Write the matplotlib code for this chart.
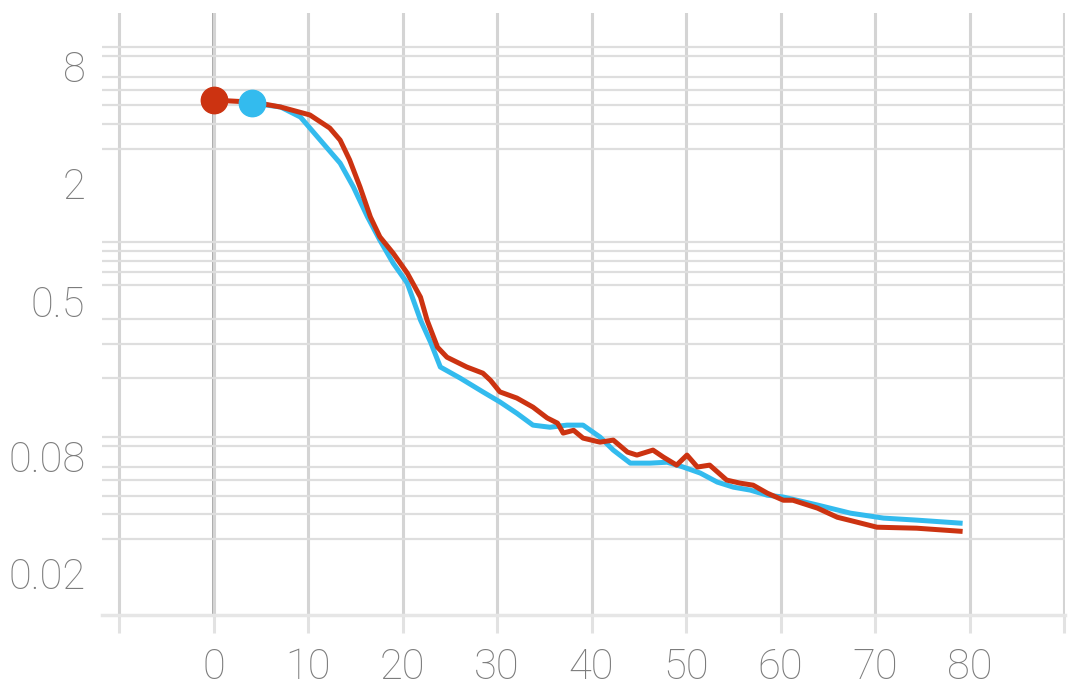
import numpy as np
import matplotlib
matplotlib.use("Agg")
import matplotlib.pyplot as plt
from matplotlib.ticker import LogLocator, FixedLocator, NullFormatter

# red run
red_steps = [0, 4.1, 5.7, 7.1, 10.2, 12.3, 13.4, 14.4, 15.5, 16.6, 17.6, 19.0, 20.5, 21.9,
             22.6, 23.7, 24.7, 26.8, 28.5, 29.3, 30.3, 32.1, 33.8, 35.3, 36.4, 37.0,
             38.1, 39.1, 40.9, 42.3, 43.8, 44.8, 46.5, 47.6, 49.0, 50.1, 51.2, 52.5,
             54.3, 55.7, 57.1, 58.6, 60.3, 61.3, 63.9, 66.0, 68.1, 70.2, 74.4, 79.0]
red_vals = [5.33, 5.20, 5.05, 4.91, 4.47, 3.83, 3.32, 2.63, 1.91, 1.34, 1.06, 0.875, 0.691, 0.520,
            0.396, 0.288, 0.256, 0.228, 0.212, 0.195, 0.170, 0.158, 0.142, 0.125, 0.1175, 0.1045,
            0.108, 0.0985, 0.0939, 0.0962, 0.0835, 0.0806, 0.0855, 0.0787, 0.0716, 0.0806, 0.0700, 0.0716,
            0.0600, 0.0579, 0.0565, 0.0514, 0.0473, 0.0473, 0.0431, 0.0387, 0.0365, 0.0344, 0.0340, 0.0328]

# blue run
blue_steps = [4.1, 7.1, 9.2, 11.3, 13.4, 14.8, 16.3, 17.6, 19.0, 20.5, 21.9, 23.0, 24.0,
              26.1, 28.5, 30.3, 32.1, 33.8, 35.6, 37.4, 39.1, 40.9, 42.3, 44.1, 46.2,
              48.0, 49.7, 51.5, 53.3, 55.0, 56.8, 58.6, 60.3, 63.9, 67.4, 70.9, 74.4, 79.0]
blue_vals = [5.14, 4.91, 4.36, 3.32, 2.53, 1.91, 1.34, 1.02, 0.778, 0.614, 0.397, 0.303, 0.228,
             0.200, 0.170, 0.151, 0.132, 0.1148, 0.112, 0.1148, 0.1148, 0.0997, 0.0855, 0.0733, 0.0733,
             0.0741, 0.0700, 0.0652, 0.0586, 0.0552, 0.0533, 0.0502, 0.0491, 0.0447, 0.0406, 0.0383, 0.0374, 0.0361]

x_ticks = [-10, 0, 10, 20, 30, 40, 50, 60, 70, 80, 90]
x_labels = ["", "0", "10", "20", "30", "40", "50", "60", "70", "80", ""]
y_ticks = [8, 2, 0.5, 0.08, 0.02]
y_labels = ["8", "2", "0.5", "0.08", "0.02"]

RED = "#cc3311"
BLUE = "#33bbee"
GRID = "#dedede"
TXT = "#7c7c7c"

plt.rcParams["font.family"] = ["Roboto", "DejaVu Sans"]

fig = plt.figure(figsize=(10.76, 6.95), dpi=100)
ax = fig.add_axes([0.0948, 0.1151, 0.8950, 0.8662])

ax.set_yscale("log")
ax.set_xlim(-11.8, 90.1)
ax.set_ylim(0.0122, 14.9)

# grid
ax.yaxis.set_minor_locator(LogLocator(base=10, subs=np.arange(1, 10)))
ax.yaxis.set_minor_formatter(NullFormatter())
ax.yaxis.set_major_locator(FixedLocator(y_ticks))
ax.set_yticklabels(y_labels)
ax.grid(True, which="minor", axis="y", color=GRID, lw=1.6, zorder=0)
ax.set_xticks(x_ticks)
ax.set_xticklabels(x_labels)
ax.grid(True, which="major", axis="x", color="#d4d4d4", lw=2.2, zorder=0)
ax.axvline(0, color="#9a9a9a", lw=2.6, zorder=1)

for s in ["top", "right", "left"]:
    ax.spines[s].set_visible(False)
ax.spines["bottom"].set_color("#e6e6e6")
ax.spines["bottom"].set_linewidth(2.5)

ax.tick_params(axis="y", which="both", length=0, pad=12, labelsize=30, labelcolor=TXT)
ax.tick_params(axis="x", which="major", length=13, width=2.2, color="#e2e2e2",
               pad=10, labelsize=30, labelcolor=TXT)
for lab in ax.get_xticklabels() + ax.get_yticklabels():
    lab.set_fontweight("light")

ax.plot(blue_steps, blue_vals, color=BLUE, lw=3.6, zorder=3, solid_joinstyle="round")
ax.plot(red_steps, red_vals, color=RED, lw=3.6, zorder=4, solid_joinstyle="round")
ax.plot(red_steps[0], red_vals[0], "o", color=RED, ms=19, zorder=5)
ax.plot(blue_steps[0], blue_vals[0], "o", color=BLUE, ms=19, zorder=5)

fig.savefig("out.png", dpi=100)
